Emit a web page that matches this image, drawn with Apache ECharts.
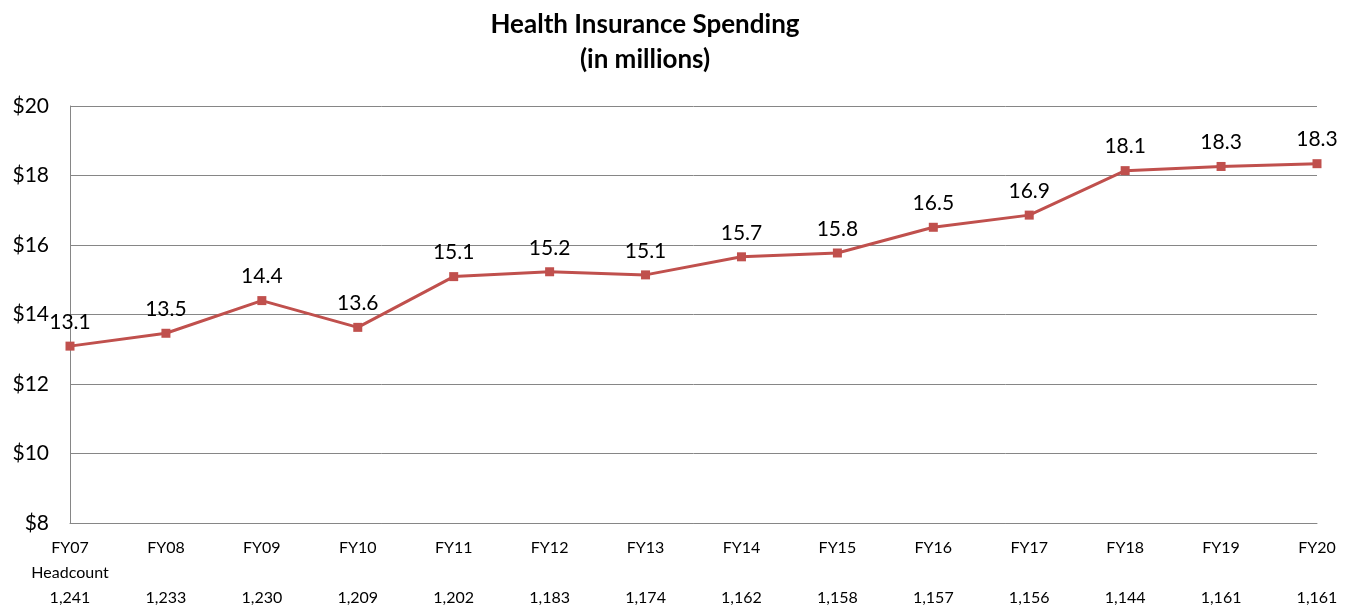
<!DOCTYPE html>
<html>
<head>
<meta charset="utf-8">
<script src="https://cdn.jsdelivr.net/npm/echarts@6/dist/echarts.min.js"></script>
<style>
  html, body { margin: 0; padding: 0; background: #fff; }
  #chart { width: 1354px; height: 610px; }
</style>
</head>
<body>
<div id="chart"></div>
<script>
const years = ['FY07', 'FY08', 'FY09', 'FY10', 'FY11', 'FY12', 'FY13', 'FY14', 'FY15', 'FY16', 'FY17', 'FY18', 'FY19', 'FY20'];
const headcount = ['1,241', '1,233', '1,230', '1,209', '1,202', '1,183', '1,174', '1,162', '1,158', '1,157', '1,156', '1,144', '1,161', '1,161'];
const spending = [13.09, 13.46, 14.40, 13.63, 15.09, 15.23, 15.14, 15.66, 15.77, 16.51, 16.86, 18.14, 18.26, 18.34];

const font = 'Lato, "Open Sans", sans-serif';
const chart = echarts.init(document.getElementById('chart'));

chart.setOption({
  animation: false,
  title: {
    text: 'Health Insurance Spending\n(in millions)',
    left: 640,
    top: 2,
    textAlign: 'center',
    textStyle: { fontFamily: font, fontSize: 26, fontWeight: 'bold', color: '#000', lineHeight: 35 }
  },
  grid: { left: 70, right: 37, top: 106, bottom: 84 },
  xAxis: {
    type: 'category',
    data: years,
    boundaryGap: false,
    axisLine: { lineStyle: { color: '#868686' } },
    axisTick: { show: false },
    axisLabel: {
      interval: 0,
      color: '#000',
      fontFamily: font,
      fontSize: 16,
      lineHeight: 25,
      margin: 12,
      formatter: (v, i) => v + '\n' + (i === 0 ? 'Headcount' : '') + '\n' + headcount[i]
    }
  },
  yAxis: {
    type: 'value',
    min: 8,
    max: 20,
    interval: 2,
    axisLine: { show: true, lineStyle: { color: '#868686' } },
    axisTick: { show: false },
    splitLine: { lineStyle: { color: '#868686' } },
    axisLabel: {
      color: '#000',
      fontFamily: font,
      fontSize: 21,
      margin: 21,
      formatter: v => '$' + v
    }
  },
  series: [{
    type: 'line',
    data: spending,
    symbol: 'rect',
    symbolSize: 9,
    lineStyle: { color: '#C0504D', width: 3 },
    itemStyle: { color: '#C0504D' },
    label: {
      show: true,
      position: 'top',
      distance: 9,
      color: '#000',
      fontFamily: font,
      fontSize: 21,
      formatter: p => p.value.toFixed(1)
    }
  }]
});
</script>
</body>
</html>
